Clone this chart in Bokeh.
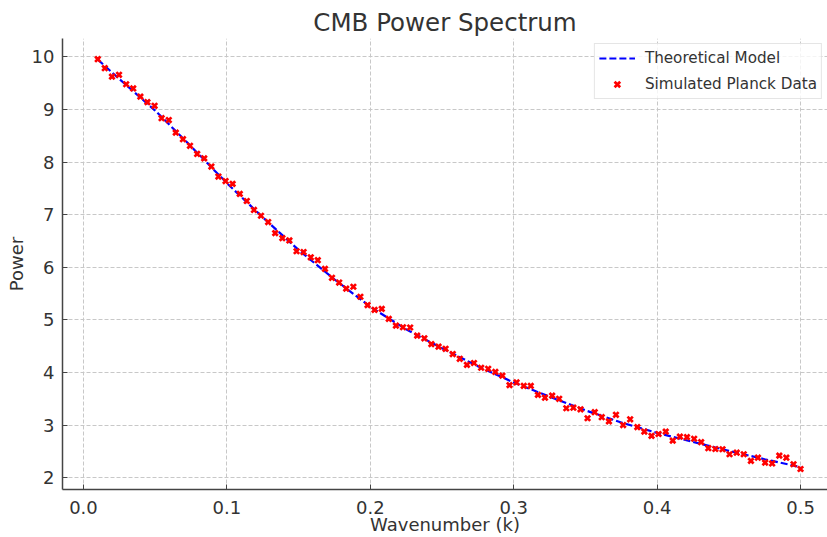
from bokeh.plotting import figure
from bokeh.embed import file_html
from bokeh.resources import INLINE
from bokeh.models import FixedTicker, Range1d, Legend, LegendItem

# Theoretical model curve
model_k = [0.01, 0.025, 0.05, 0.075, 0.10, 0.125, 0.15, 0.175, 0.20, 0.225, 0.25,
           0.275, 0.30, 0.325, 0.35, 0.375, 0.40, 0.425, 0.45, 0.475, 0.50]
model_power = [9.95, 9.58, 8.98, 8.30, 7.60, 6.95, 6.33, 5.77, 5.25, 4.82, 4.46,
               4.12, 3.81, 3.54, 3.28, 3.05, 2.85, 2.68, 2.51, 2.35, 2.20]

# Simulated Planck data points
data_k = [0.0100, 0.0149, 0.0199, 0.0248, 0.0298, 0.0347, 0.0397, 0.0446, 0.0496, 0.0545,
          0.0595, 0.0644, 0.0694, 0.0743, 0.0793, 0.0842, 0.0892, 0.0941, 0.0991, 0.1040,
          0.1090, 0.1139, 0.1189, 0.1238, 0.1288, 0.1337, 0.1387, 0.1436, 0.1486, 0.1535,
          0.1585, 0.1634, 0.1684, 0.1733, 0.1783, 0.1832, 0.1882, 0.1931, 0.1981, 0.2030,
          0.2080, 0.2129, 0.2179, 0.2228, 0.2278, 0.2327, 0.2377, 0.2426, 0.2476, 0.2525,
          0.2575, 0.2624, 0.2674, 0.2723, 0.2773, 0.2822, 0.2872, 0.2921, 0.2971, 0.3020,
          0.3070, 0.3119, 0.3169, 0.3218, 0.3268, 0.3317, 0.3367, 0.3416, 0.3466, 0.3515,
          0.3565, 0.3614, 0.3664, 0.3713, 0.3763, 0.3812, 0.3862, 0.3911, 0.3961, 0.4010,
          0.4060, 0.4109, 0.4159, 0.4208, 0.4258, 0.4307, 0.4357, 0.4406, 0.4456, 0.4505,
          0.4555, 0.4604, 0.4654, 0.4703, 0.4753, 0.4802, 0.4852, 0.4901, 0.4951, 0.5000]
data_power = [9.956, 9.785, 9.625, 9.66, 9.48, 9.40, 9.245, 9.14, 9.07, 8.835,
              8.80, 8.56, 8.435, 8.31, 8.155, 8.07, 7.915, 7.725, 7.64, 7.585,
              7.395, 7.26, 7.09, 6.98, 6.86, 6.65, 6.555, 6.51, 6.305, 6.29,
              6.19, 6.135, 5.97, 5.80, 5.71, 5.595, 5.63, 5.44, 5.28, 5.19,
              5.21, 5.02, 4.89, 4.86, 4.855, 4.70, 4.65, 4.54, 4.49, 4.45,
              4.35, 4.26, 4.145, 4.18, 4.09, 4.07, 4.01, 3.94, 3.76, 3.81,
              3.745, 3.745, 3.575, 3.52, 3.56, 3.50, 3.32, 3.33, 3.30, 3.13,
              3.245, 3.15, 3.07, 3.195, 3.00, 3.11, 2.96, 2.875, 2.795, 2.83,
              2.875, 2.705, 2.78, 2.77, 2.74, 2.675, 2.56, 2.545, 2.54, 2.445,
              2.475, 2.445, 2.32, 2.38, 2.285, 2.27, 2.42, 2.38, 2.255, 2.165]

x_ticks = [0.0, 0.1, 0.2, 0.3, 0.4, 0.5]
x_tick_labels = ["0.0", "0.1", "0.2", "0.3", "0.4", "0.5"]
y_ticks = [2, 3, 4, 5, 6, 7, 8, 9, 10]
y_tick_labels = ["2", "3", "4", "5", "6", "7", "8", "9", "10"]

FONT = "DejaVu Sans"
TEXT = "#333333"

p = figure(width=827, height=537, output_backend="svg", toolbar_location=None,
           x_range=Range1d(-0.0146, 0.5188), y_range=Range1d(1.775, 10.35),
           min_border_left=62, min_border_right=0, min_border_top=38, min_border_bottom=47)

p.title.text = "CMB Power Spectrum"
p.title.align = "center"
p.title.text_font = FONT
p.title.text_font_size = "24.5px"
p.title.text_font_style = "normal"
p.title.text_color = TEXT
p.title.offset = 4
p.title.standoff = 4

p.outline_line_color = None
p.background_fill_color = "white"
p.border_fill_color = "white"

for ax in (p.xaxis[0], p.yaxis[0]):
    ax.axis_line_color = "#444444"
    ax.axis_line_width = 1.5
    ax.major_tick_line_color = "#444444"
    ax.major_tick_in = 5
    ax.major_tick_out = 0
    ax.minor_tick_line_color = None
    ax.major_label_text_font = FONT
    ax.major_label_text_font_size = "18px"
    ax.major_label_text_color = TEXT
    ax.major_label_text_line_height = 1.0
    ax.axis_label_text_font = FONT
    ax.axis_label_text_font_size = "18px"
    ax.axis_label_text_font_style = "normal"
    ax.axis_label_text_color = TEXT
    ax.axis_label_text_line_height = 1.0

p.xaxis[0].ticker = FixedTicker(ticks=x_ticks)
p.xaxis[0].major_label_overrides = dict(zip(x_ticks, x_tick_labels))
p.yaxis[0].ticker = FixedTicker(ticks=y_ticks)
p.yaxis[0].major_label_overrides = dict(zip(y_ticks, y_tick_labels))
p.xaxis[0].axis_label = "Wavenumber (k)"
p.yaxis[0].axis_label = "Power"
p.xaxis[0].major_label_standoff = 11
p.xaxis[0].axis_label_standoff = -3
p.yaxis[0].major_label_standoff = 8
p.yaxis[0].axis_label_standoff = 2

for g in (p.xgrid[0], p.ygrid[0]):
    g.grid_line_color = "#c8c8c8"
    g.grid_line_dash = "4 2"
    g.grid_line_width = 1

line = p.line(model_k, model_power, line_color="#0000ff", line_width=2.2, line_dash="7 3")
pts = p.scatter(data_k, data_power, marker="x", size=7.5, line_color="#ff0000", line_width=2.7)

legend = Legend(items=[LegendItem(label="Theoretical Model", renderers=[line]),
                       LegendItem(label="Simulated Planck Data", renderers=[pts])],
                location="top_right")
legend.label_text_font = FONT
legend.label_text_font_size = "15.2px"
legend.label_text_color = TEXT
legend.border_line_color = "#cccccc"
legend.border_line_width = 1
legend.background_fill_alpha = 0.8
legend.margin = 5
legend.padding = 4
legend.spacing = 6
legend.glyph_width = 36
legend.label_standoff = 10
p.add_layout(legend)

open("out.html", "w").write(file_html(p, INLINE))
